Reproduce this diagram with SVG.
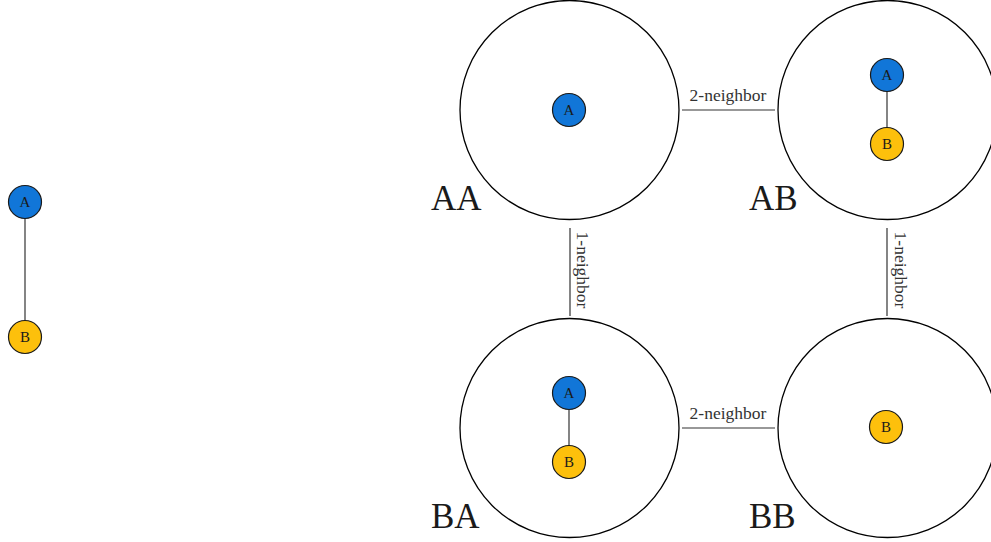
<svg xmlns="http://www.w3.org/2000/svg" width="991" height="542" viewBox="0 0 991 542">
  <style>
    .big { fill: #ffffff; stroke: #000000; stroke-width: 1.3; }
    .na { fill: #1176d8; stroke: #1a1a1a; stroke-width: 1.2; }
    .nb { fill: #fdc00c; stroke: #1a1a1a; stroke-width: 1.2; }
    .nt { font-family: "Liberation Serif", serif; font-size: 15px; fill: #1a1a1a; text-anchor: middle; }
    .edge { stroke: #333333; stroke-width: 1.2; fill: none; }
    .lbl { font-family: "Liberation Serif", serif; font-size: 17.5px; fill: #333333; text-anchor: middle; }
    .state { font-family: "Liberation Serif", serif; font-size: 35px; fill: #1a1a1a; }
  </style>

  <!-- connectors between the state circles -->
  <g id="connectors">
    <line class="edge" x1="682" y1="110" x2="775" y2="110"/>
    <text class="lbl" x="728" y="101">2-neighbor</text>
    <line class="edge" x1="682" y1="428" x2="775" y2="428"/>
    <text class="lbl" x="728" y="419">2-neighbor</text>
    <line class="edge" x1="570" y1="228" x2="570" y2="316"/>
    <text class="lbl" transform="translate(577,270) rotate(90)">1-neighbor</text>
    <line class="edge" x1="887" y1="228" x2="887" y2="316"/>
    <text class="lbl" transform="translate(895,270) rotate(90)">1-neighbor</text>
  </g>

  <!-- base graph -->
  <g id="base">
    <line class="edge" x1="25" y1="202" x2="25" y2="337"/>
    <circle class="na" cx="25" cy="202" r="16.5"/>
    <text class="nt" x="25" y="207">A</text>
    <circle class="nb" cx="25" cy="337" r="16.5"/>
    <text class="nt" x="25" y="342">B</text>
  </g>

  <!-- state AA -->
  <g id="AA">
    <circle class="big" cx="569.5" cy="110" r="109.5"/>
    <circle class="na" cx="569" cy="110" r="16.5"/>
    <text class="nt" x="569" y="115">A</text>
    <text class="state" x="431" y="210">AA</text>
  </g>

  <!-- state AB -->
  <g id="AB">
    <circle class="big" cx="887.5" cy="110" r="109.5"/>
    <line class="edge" x1="887" y1="75" x2="887" y2="144"/>
    <circle class="na" cx="887" cy="75" r="16.5"/>
    <text class="nt" x="887" y="80">A</text>
    <circle class="nb" cx="887" cy="144" r="16.5"/>
    <text class="nt" x="887" y="149">B</text>
    <text class="state" x="749" y="210">AB</text>
  </g>

  <!-- state BA -->
  <g id="BA">
    <circle class="big" cx="569.5" cy="428" r="109.5"/>
    <line class="edge" x1="569" y1="393" x2="569" y2="462"/>
    <circle class="na" cx="569" cy="393" r="16.5"/>
    <text class="nt" x="569" y="398">A</text>
    <circle class="nb" cx="569" cy="462" r="16.5"/>
    <text class="nt" x="569" y="467">B</text>
    <text class="state" x="431" y="528">BA</text>
  </g>

  <!-- state BB -->
  <g id="BB">
    <circle class="big" cx="887.5" cy="428" r="109.5"/>
    <circle class="nb" cx="886" cy="427" r="16.5"/>
    <text class="nt" x="886" y="432">B</text>
    <text class="state" x="749" y="528">BB</text>
  </g>
</svg>
